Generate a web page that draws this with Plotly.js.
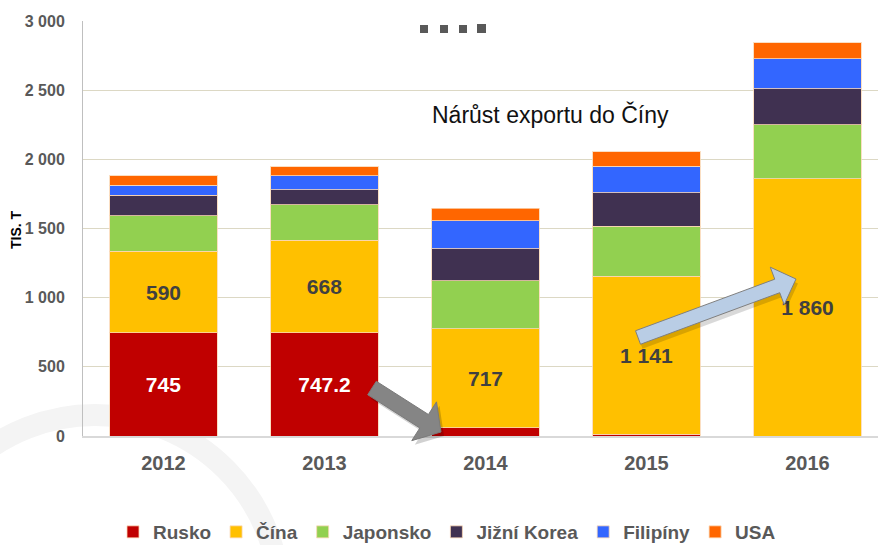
<!DOCTYPE html>
<html>
<head>
<meta charset="utf-8">
<script src="https://cdn.plot.ly/plotly-3.0.1.min.js"></script>
<style>html,body{margin:0;padding:0;background:#fff;}#chart{width:878px;height:545px;}</style>
</head>
<body>
<div id="chart"></div>
<script>
// ---- data ----
const years = ["2012", "2013", "2014", "2015", "2016"];
const rusko = [745, 747.2, 60, 14, 0];
const cina = [590, 668, 717, 1141, 1860];
const japonsko = [257, 256, 347, 360, 390];
const jizniKorea = [147, 108, 228, 243, 260];
const filipiny = [72, 103, 204, 192, 216];
const usa = [69, 65, 89, 106, 118];
const ruskoLabelShown = [true, true, false, false, false];
const cinaLabelShown = [true, true, true, true, true];
const yTicks = [0, 500, 1000, 1500, 2000, 2500, 3000];
const seriesNames = ["Rusko", "Čína", "Japonsko", "Jižní Korea", "Filipíny", "USA"];
const noteText = "Nárůst exportu do Číny";
const yTitle = "TIS. T";

// ---- helpers ----
function fmt(v) {
  const s = String(v).split(".");
  s[0] = s[0].replace(/\B(?=(\d{3})+(?!\d))/g, " ");
  return s.join(".");
}
const FONT = "Liberation Sans, Arial, Helvetica, sans-serif";
const L = 83, R = 878, T = 21, B = 436;
const px = x => (x - L) / (R - L);
const py = y => (B - y) / (B - T);

function arrowPath(S, Tp, w, h, hl) {
  const dx = Tp[0] - S[0], dy = Tp[1] - S[1];
  const len = Math.hypot(dx, dy);
  const d = [dx / len, dy / len];
  const n = [-d[1], d[0]];
  const Bs = [S[0] + d[0] * (len - hl), S[1] + d[1] * (len - hl)];
  const pts = [
    [S[0] + n[0] * w, S[1] + n[1] * w],
    [Bs[0] + n[0] * w, Bs[1] + n[1] * w],
    [Bs[0] + n[0] * h, Bs[1] + n[1] * h],
    Tp,
    [Bs[0] - n[0] * h, Bs[1] - n[1] * h],
    [Bs[0] - n[0] * w, Bs[1] - n[1] * w],
    [S[0] - n[0] * w, S[1] - n[1] * w]
  ];
  return "M" + pts.map(p => px(p[0]).toFixed(5) + "," + py(p[1]).toFixed(5)).join("L") + "Z";
}

const colors = ["#c00000", "#ffc000", "#92d050", "#403151", "#3366ff", "#ff6600"];
const allSeries = [rusko, cina, japonsko, jizniKorea, filipiny, usa];
const outline = {color: "rgba(250,215,180,0.8)", width: 1};

const traces = allSeries.map((vals, k) => {
  const t = {
    type: "bar",
    name: seriesNames[k],
    x: years,
    y: vals,
    marker: {color: colors[k], line: outline},
    hoverinfo: "x+y+name"
  };
  if (k === 0 || k === 1) {
    const shown = k === 0 ? ruskoLabelShown : cinaLabelShown;
    t.text = vals.map((v, i) => shown[i] ? fmt(v) : "");
    t.textposition = "inside";
    t.insidetextanchor = "middle";
    t.textangle = 0;
    t.constraintext = "none";
    t.insidetextfont = {family: FONT, size: 21, weight: "bold", color: k === 0 ? "#ffffff" : "#404040"};
  } else {
    t.textposition = "none";
  }
  return t;
});

const grayArrow = arrowPath([372, 388], [441, 432], 8, 23, 20);
const grayShadow = arrowPath([375, 392], [444, 436], 8, 23, 20);
const blueArrow = arrowPath([638, 337.5], [796, 279], 7.2, 20, 20);
const blueShadow = arrowPath([640, 342], [798, 283.5], 7.2, 20, 20);

const dots = [[420, 25, 428, 33], [440, 25, 448, 33], [459, 25, 467, 33], [477, 24, 486, 33]];

const shapes = [
  {type: "circle", xref: "paper", yref: "paper", layer: "below",
   x0: px(-90), x1: px(280), y0: py(785), y1: py(415),
   line: {color: "#f4f4f4", width: 22}, fillcolor: "rgba(0,0,0,0)"},
  {type: "path", xref: "paper", yref: "paper", path: grayShadow, fillcolor: "rgba(0,0,0,0.18)", line: {width: 0}},
  {type: "path", xref: "paper", yref: "paper", path: grayArrow, fillcolor: "#858585", line: {color: "#7a7a7a", width: 1}},
  {type: "path", xref: "paper", yref: "paper", path: blueShadow, fillcolor: "rgba(0,0,0,0.15)", line: {width: 0}},
  {type: "path", xref: "paper", yref: "paper", path: blueArrow, fillcolor: "#b9cde5", line: {color: "#7f7f7f", width: 1}}
].concat(dots.map(d => ({
  type: "rect", xref: "paper", yref: "paper",
  x0: px(d[0]), x1: px(d[2]), y0: py(d[3]), y1: py(d[1]),
  fillcolor: "#595959", line: {width: 0}
})));

const layout = {
  width: 878, height: 545,
  margin: {l: L, r: 878 - R, t: T, b: 545 - B, pad: 0, autoexpand: false},
  paper_bgcolor: "#ffffff",
  plot_bgcolor: "#ffffff",
  barmode: "stack",
  bargap: 0.335,
  showlegend: true,
  separators: ". ",
  font: {family: FONT, color: "#595959"},
  xaxis: {
    type: "category",
    range: [-0.5, 4.438],
    showline: true, linecolor: "#d9d9d9", linewidth: 2,
    ticks: "", showgrid: false, zeroline: false,
    tickfont: {family: FONT, size: 20, weight: "bold", color: "#595959"},
    ticklabelstandoff: 8
  },
  yaxis: {
    range: [0, 3000],
    tickvals: yTicks,
    ticktext: yTicks.map(fmt),
    showline: true, linecolor: "#bfbfbf", linewidth: 1,
    showgrid: true, gridcolor: "#dcd8c4", gridwidth: 1,
    zeroline: false, ticks: "",
    tickfont: {family: FONT, size: 16, weight: "bold", color: "#595959"},
    ticklabelstandoff: 14
  },
  legend: {
    orientation: "h",
    traceorder: "normal",
    x: px(113), xanchor: "left",
    y: py(532), yanchor: "middle",
    font: {family: FONT, size: 19, weight: "bold", color: "#595959"},
    itemwidth: 30,
    bgcolor: "rgba(0,0,0,0)"
  },
  annotations: [
    {xref: "paper", yref: "paper", x: px(550), y: py(114), xanchor: "center", yanchor: "middle",
     text: noteText, showarrow: false, font: {family: FONT, size: 23, color: "#111111"}},
    {xref: "paper", yref: "paper", x: px(16), y: py(230), xanchor: "center", yanchor: "middle",
     text: "<b>" + yTitle + "</b>", textangle: -90, showarrow: false,
     font: {family: FONT, size: 14, color: "#000000"}}
  ],
  shapes: shapes
};

Plotly.newPlot("chart", traces, layout, {displayModeBar: false, staticPlot: true});
</script>
</body>
</html>
